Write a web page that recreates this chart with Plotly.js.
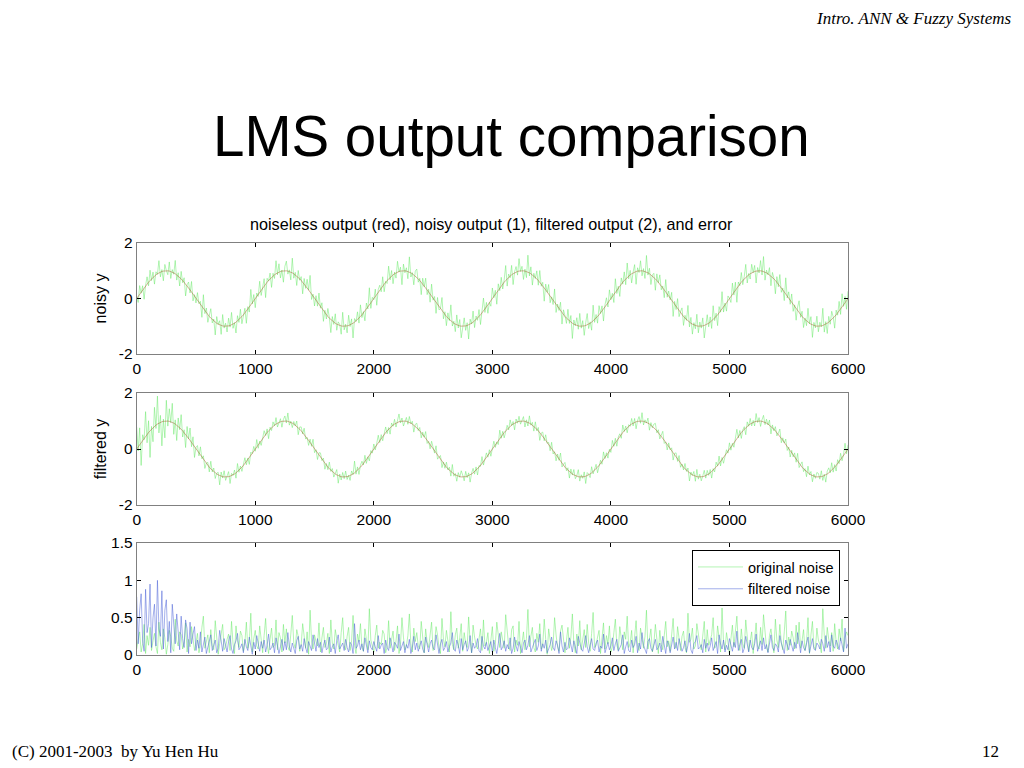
<!DOCTYPE html>
<html>
<head>
<meta charset="utf-8">
<script src="https://cdn.plot.ly/plotly-3.0.1.min.js"></script>
<style>html,body{margin:0;padding:0;background:#fff;}#chart{width:1024px;height:768px;}</style>
</head>
<body>
<div id="chart"></div>
<script>
// Sample spacing along the x axis (sample index units)
const sampleStart = 0;
const sampleStep = 12.5;

// Noiseless output (red line), read every 12.5 samples
const cleanOutput = [
 0,0.078,0.156,0.233,0.309,0.383,0.454,0.522,0.588,0.649,0.707,0.760,0.809,0.853,0.891,0.924,0.951,0.972,0.988,0.997,
 1,0.997,0.988,0.972,0.951,0.924,0.891,0.853,0.809,0.760,0.707,0.649,0.588,0.522,0.454,0.383,0.309,0.233,0.156,0.078,
 0,-0.078,-0.156,-0.233,-0.309,-0.383,-0.454,-0.522,-0.588,-0.649,-0.707,-0.760,-0.809,-0.853,-0.891,-0.924,-0.951,-0.972,-0.988,-0.997,
 -1,-0.997,-0.988,-0.972,-0.951,-0.924,-0.891,-0.853,-0.809,-0.760,-0.707,-0.649,-0.588,-0.522,-0.454,-0.383,-0.309,-0.233,-0.156,-0.078,
 0,0.078,0.156,0.233,0.309,0.383,0.454,0.522,0.588,0.649,0.707,0.760,0.809,0.853,0.891,0.924,0.951,0.972,0.988,0.997,
 1,0.997,0.988,0.972,0.951,0.924,0.891,0.853,0.809,0.760,0.707,0.649,0.588,0.522,0.454,0.383,0.309,0.233,0.156,0.078,
 0,-0.078,-0.156,-0.233,-0.309,-0.383,-0.454,-0.522,-0.588,-0.649,-0.707,-0.760,-0.809,-0.853,-0.891,-0.924,-0.951,-0.972,-0.988,-0.997,
 -1,-0.997,-0.988,-0.972,-0.951,-0.924,-0.891,-0.853,-0.809,-0.760,-0.707,-0.649,-0.588,-0.522,-0.454,-0.383,-0.309,-0.233,-0.156,-0.078,
 0,0.078,0.156,0.233,0.309,0.383,0.454,0.522,0.588,0.649,0.707,0.760,0.809,0.853,0.891,0.924,0.951,0.972,0.988,0.997,
 1,0.997,0.988,0.972,0.951,0.924,0.891,0.853,0.809,0.760,0.707,0.649,0.588,0.522,0.454,0.383,0.309,0.233,0.156,0.078,
 0,-0.078,-0.156,-0.233,-0.309,-0.383,-0.454,-0.522,-0.588,-0.649,-0.707,-0.760,-0.809,-0.853,-0.891,-0.924,-0.951,-0.972,-0.988,-0.997,
 -1,-0.997,-0.988,-0.972,-0.951,-0.924,-0.891,-0.853,-0.809,-0.760,-0.707,-0.649,-0.588,-0.522,-0.454,-0.383,-0.309,-0.233,-0.156,-0.078,
 0,0.078,0.156,0.233,0.309,0.383,0.454,0.522,0.588,0.649,0.707,0.760,0.809,0.853,0.891,0.924,0.951,0.972,0.988,0.997,
 1,0.997,0.988,0.972,0.951,0.924,0.891,0.853,0.809,0.760,0.707,0.649,0.588,0.522,0.454,0.383,0.309,0.233,0.156,0.078,
 0,-0.078,-0.156,-0.233,-0.309,-0.383,-0.454,-0.522,-0.588,-0.649,-0.707,-0.760,-0.809,-0.853,-0.891,-0.924,-0.951,-0.972,-0.988,-0.997,
 -1,-0.997,-0.988,-0.972,-0.951,-0.924,-0.891,-0.853,-0.809,-0.760,-0.707,-0.649,-0.588,-0.522,-0.454,-0.383,-0.309,-0.233,-0.156,-0.078,
 0,0.078,0.156,0.233,0.309,0.383,0.454,0.522,0.588,0.649,0.707,0.760,0.809,0.853,0.891,0.924,0.951,0.972,0.988,0.997,
 1,0.997,0.988,0.972,0.951,0.924,0.891,0.853,0.809,0.760,0.707,0.649,0.588,0.522,0.454,0.383,0.309,0.233,0.156,0.078,
 0,-0.078,-0.156,-0.233,-0.309,-0.383,-0.454,-0.522,-0.588,-0.649,-0.707,-0.760,-0.809,-0.853,-0.891,-0.924,-0.951,-0.972,-0.988,-0.997,
 -1,-0.997,-0.988,-0.972,-0.951,-0.924,-0.891,-0.853,-0.809,-0.760,-0.707,-0.649,-0.588,-0.522,-0.454,-0.383,-0.309,-0.233,-0.156,-0.078,
 0,0.078,0.156,0.233,0.309,0.383,0.454,0.522,0.588,0.649,0.707,0.760,0.809,0.853,0.891,0.924,0.951,0.972,0.988,0.997,
 1,0.997,0.988,0.972,0.951,0.924,0.891,0.853,0.809,0.760,0.707,0.649,0.588,0.522,0.454,0.383,0.309,0.233,0.156,0.078,
 0,-0.078,-0.156,-0.233,-0.309,-0.383,-0.454,-0.522,-0.588,-0.649,-0.707,-0.760,-0.809,-0.853,-0.891,-0.924,-0.951,-0.972,-0.988,-0.997,
 -1,-0.997,-0.988,-0.972,-0.951,-0.924,-0.891,-0.853,-0.809,-0.760,-0.707,-0.649,-0.588,-0.522,-0.454,-0.383,-0.309,-0.233,-0.156,-0.078,
 0
];

// Original noise (noisy output minus noiseless output), estimated every 12.5 samples
const originalNoise = [
 0.08,-0.22,0.31,-0.04,0.15,-0.41,0.02,0.26,-0.13,0.37,
 -0.06,0.19,-0.29,0.11,-0.02,0.44,-0.17,0.07,-0.35,0.23,
 0.01,-0.14,0.33,-0.25,0.09,-0.05,0.48,-0.19,0.12,-0.31,
 0.27,-0.08,0.16,-0.43,0.04,0.21,-0.11,0.38,-0.24,0.06,
 -0.16,0.29,-0.03,0.13,-0.37,0.52,-0.09,0.18,-0.27,0.03,
 0.34,-0.12,0.07,-0.46,0.24,-0.01,0.15,-0.32,0.41,-0.07,
 0.11,-0.21,0.28,-0.06,0.45,-0.15,0.02,-0.39,0.19,-0.10,
 0.32,-0.26,0.05,0.17,-0.44,0.09,-0.18,0.56,-0.04,0.22,
 -0.33,0.12,-0.08,0.39,-0.20,0.03,0.26,-0.49,0.14,-0.02,
 0.21,-0.36,0.10,-0.13,0.47,-0.07,0.30,-0.23,0.04,-0.41,
 0.16,0.35,-0.11,0.06,-0.28,0.53,-0.16,0.09,-0.34,0.25,
 -0.05,0.14,-0.42,0.20,-0.09,0.31,-0.01,0.60,-0.19,0.08,
 -0.27,0.18,-0.12,0.43,-0.04,0.23,-0.37,0.10,-0.15,0.29,
 0.02,-0.47,0.16,-0.08,0.34,-0.22,0.11,0.04,-0.30,0.50,
 -0.13,0.07,-0.25,0.37,-0.06,0.19,-0.53,0.13,-0.02,0.28,
 -0.18,0.42,-0.10,0.05,-0.35,0.22,-0.07,0.62,-0.20,0.12,
 -0.04,0.26,-0.40,0.09,0.17,-0.14,0.33,-0.28,0.03,-0.11,
 0.46,-0.09,0.20,-0.32,0.06,-0.19,0.39,-0.02,0.14,-0.50,
 0.24,-0.07,0.12,-0.26,0.55,-0.15,0.04,-0.36,0.18,0.30,
 -0.12,0.08,-0.45,0.21,-0.03,0.35,-0.17,0.10,-0.29,0.44,
 -0.06,0.15,-0.38,0.27,-0.10,0.02,0.49,-0.21,0.11,-0.33,
 0.19,-0.04,0.58,-0.14,0.07,-0.27,0.36,-0.09,0.23,-0.42,
 0.05,0.30,-0.16,0.10,-0.51,0.18,-0.03,0.40,-0.24,0.13,
 -0.08,0.25,-0.35,0.06,0.47,-0.12,0.17,-0.30,0.02,-0.20,
 0.38,-0.05,0.14,-0.44,0.22,-0.10,0.31,-0.18,0.09,0.54,
 -0.26,0.12,-0.06,0.34,-0.39,0.04,0.20,-0.13,0.45,-0.02,
 0.16,-0.31,0.07,-0.22,0.61,-0.11,0.25,-0.37,0.10,-0.04,
 0.29,-0.17,0.42,-0.08,0.13,-0.48,0.21,-0.01,0.35,-0.23,
 0.06,-0.14,0.50,-0.27,0.11,-0.05,0.32,-0.40,0.18,0.03,
 -0.19,0.37,-0.09,0.24,-0.55,0.15,-0.03,0.28,-0.12,0.46,
 -0.07,0.20,-0.34,0.10,0.41,-0.16,0.05,-0.29,0.57,-0.10,
 0.13,-0.24,0.33,-0.02,0.19,-0.43,0.08,0.26,-0.15,0.39,
 -0.04,0.11,-0.30,0.48,-0.13,0.06,-0.38,0.22,-0.07,0.31,
 -0.21,0.52,-0.10,0.16,-0.33,0.03,0.27,-0.46,0.12,-0.06,
 0.36,-0.18,0.09,-0.25,0.60,-0.08,0.20,-0.35,0.04,0.15,
 -0.41,0.24,-0.02,0.33,-0.14,0.07,-0.28,0.45,-0.11,0.19,
 -0.05,0.30,-0.49,0.13,-0.09,0.38,-0.20,0.06,0.25,-0.32,
 0.10,-0.03,0.56,-0.17,0.21,-0.36,0.08,-0.12,0.42,-0.24,
 0.15,-0.07,0.29,-0.45,0.04,0.34,-0.13,0.19,-0.27,0.50,
 -0.09,0.12,-0.39,0.23,-0.04,0.63,-0.18,0.07,-0.30,0.17,
 0.01,-0.22,0.40,-0.11,0.28,-0.52,0.14,-0.06,0.35,-0.15,
 0.09,0.47,-0.25,0.05,-0.19,0.31,-0.02,0.22,-0.43,0.12,
 -0.08,0.37,-0.14,0.54,-0.29,0.10,-0.04,0.26,-0.35,0.18,
 0.03,-0.48,0.20,-0.10,0.41,-0.16,0.07,-0.31,0.59,-0.06,
 0.24,-0.13,0.32,-0.23,0.08,-0.40,0.15,0.44,-0.09,0.19,
 -0.34,0.06,-0.17,0.50,-0.02,0.27,-0.45,0.11,-0.07,0.36,
 -0.20,0.14,-0.03,0.62,-0.26,0.09,-0.37,0.21,-0.12,0.30,
 0.05,-0.42,0.17,-0.08,0.35,-0.19,0.48,-0.05,0.23,-0.31,
 0.26
];

// Filtered noise (filtered output minus noiseless output), estimated every 12.5 samples
const filteredNoise = [
 0.78,-0.15,0.60,-0.82,0.20,-0.05,0.88,-0.30,0.42,-0.95,
 0.10,-0.50,0.68,-0.12,1.00,-0.35,0.25,-0.86,0.08,-0.60,
 0.74,-0.18,0.45,-0.03,0.68,-0.40,0.15,-0.55,0.30,-0.07,
 0.52,-0.22,0.10,-0.47,0.35,-0.02,0.44,-0.15,0.28,-0.38,
 0.06,0.20,-0.09,0.31,-0.04,0.14,-0.24,0.02,0.11,-0.17,
 0.27,-0.06,0.13,-0.20,0.03,0.09,-0.33,0.15,-0.05,0.22,
 -0.12,0.04,0.18,-0.26,0.08,-0.02,0.14,-0.19,0.29,-0.07,
 0.10,-0.15,0.03,0.21,-0.11,0.06,-0.24,0.12,-0.01,0.17,
 -0.08,0.26,-0.13,0.05,-0.18,0.09,0.20,-0.04,0.13,-0.28,
 0.07,-0.10,0.16,-0.03,0.23,-0.14,0.02,0.11,-0.21,0.06,
 0.18,-0.07,0.30,-0.12,0.04,-0.16,0.09,-0.02,0.19,-0.25,
 0.08,0.14,-0.05,0.22,-0.10,0.03,-0.18,0.12,-0.06,0.27,
 -0.13,0.05,-0.22,0.10,0.17,-0.03,0.13,-0.20,0.07,-0.09,
 0.24,-0.04,0.11,-0.15,0.02,0.19,-0.27,0.08,-0.12,0.16,
 -0.06,0.21,-0.10,0.04,-0.17,0.14,-0.02,0.42,-0.09,0.12,
 -0.20,0.07,0.15,-0.05,0.23,-0.13,0.03,-0.19,0.10,-0.07,
 0.18,-0.11,0.05,0.26,-0.08,0.13,-0.16,0.02,0.20,-0.10,
 0.06,-0.23,0.12,-0.04,0.17,-0.14,0.09,0.28,-0.06,0.11,
 -0.18,0.03,0.14,-0.09,0.21,-0.02,0.10,-0.25,0.07,0.16,
 -0.05,0.12,-0.19,0.08,-0.03,0.24,-0.11,0.04,-0.15,0.20,
 0.09,-0.07,0.27,-0.13,0.02,0.15,-0.21,0.06,-0.10,0.18,
 -0.04,0.11,-0.16,0.30,-0.08,0.05,-0.20,0.13,-0.02,0.22,
 0.07,-0.14,0.19,-0.05,0.10,-0.26,0.03,0.16,-0.09,0.12,
 -0.22,0.06,-0.03,0.25,-0.12,0.08,0.17,-0.06,0.13,-0.18,
 0.04,0.20,-0.10,0.02,-0.15,0.29,-0.07,0.11,-0.19,0.05,
 0.14,-0.08,0.23,-0.02,0.09,-0.24,0.12,-0.05,0.18,-0.11,
 0.03,0.16,-0.20,0.07,-0.13,0.26,-0.04,0.10,-0.17,0.21,
 -0.06,0.12,-0.28,0.05,0.15,-0.09,0.20,-0.03,0.08,-0.14,
 0.24,-0.10,0.06,-0.19,0.13,-0.02,0.31,-0.12,0.04,0.17,
 -0.07,0.09,-0.23,0.14,-0.04,0.19,-0.11,0.02,0.25,-0.15,
 0.08,-0.05,0.17,-0.26,0.11,0.03,-0.13,0.22,-0.08,0.06,
 0.16,-0.20,0.04,0.12,-0.09,0.28,-0.03,0.10,-0.17,0.07,
 -0.12,0.23,-0.06,0.15,-0.21,0.05,0.09,-0.14,0.27,-0.02,
 0.11,-0.18,0.06,-0.04,0.20,-0.10,0.14,-0.25,0.03,0.16,
 -0.08,0.30,-0.13,0.07,-0.02,0.18,-0.22,0.09,-0.05,0.13,
 0.21,-0.07,0.10,-0.16,0.04,0.25,-0.11,0.02,-0.19,0.14,
 -0.03,0.12,-0.24,0.08,0.17,-0.06,0.22,-0.13,0.05,-0.10,
 0.19,-0.04,0.13,-0.29,0.07,-0.02,0.15,-0.18,0.26,-0.08,
 0.10,-0.14,0.03,0.21,-0.09,0.16,-0.05,0.12,-0.23,0.06,
 -0.11,0.18,-0.02,0.27,-0.15,0.08,-0.20,0.04,0.13,-0.07,
 0.22,-0.12,0.05,-0.17,0.10,0.32,-0.06,0.14,-0.21,0.03,
 0.09,-0.25,0.16,-0.04,0.20,-0.10,0.07,-0.15,0.28,-0.05,
 0.12,-0.19,0.06,0.23,-0.08,0.14,-0.03,0.18,-0.27,0.10,
 -0.06,0.15,-0.12,0.04,0.26,-0.16,0.09,-0.02,0.20,-0.13,
 0.07,-0.21,0.11,-0.05,0.17,-0.09,0.30,-0.14,0.03,0.19,
 -0.10,0.06,-0.18,0.24,-0.03,0.12,-0.22,0.08,-0.06,0.16,
 0.13,-0.08,0.21,-0.15,0.05,-0.26,0.10,0.18,-0.04,0.27,
 -0.12,0.09,-0.20,0.14,-0.07,0.23,-0.11,0.04,0.36,-0.09,
 0.15
];

// Tick labels
const xTickVals = [0,1000,2000,3000,4000,5000,6000];
const xTickText = ['0','1000','2000','3000','4000','5000','6000'];
const yTickVals = [-2,0,2];
const yTickText = ['-2','0','2'];
const errTickVals = [0,0.5,1,1.5];
const errTickText = ['0','0.5','1','1.5'];

// Text
const slideTitle = 'LMS output comparison';
const plotTitle = 'noiseless output (red), noisy output (1), filtered output (2), and error';
const headerText = 'Intro. ANN &amp; Fuzzy Systems';
const footerText = '(C) 2001-2003\u00a0\u00a0by Yu Hen Hu';
const pageNumber = '12';
const legendNames = ['original noise','filtered noise'];

// Derived series
const noisyOutput = cleanOutput.map((v,i) => v + originalNoise[i]);
const filteredOutput = cleanOutput.map((v,i) => v + filteredNoise[i]);
const originalNoiseMag = originalNoise.map(v => Math.abs(v));
const filteredNoiseMag = filteredNoise.map(v => Math.abs(v));

const green = 'rgb(105,232,105)';
const blue = 'rgb(70,95,215)';
const redLine = 'rgba(165,85,35,0.8)';

const traces = [
  {type:'scatter', mode:'lines', x0:sampleStart, dx:sampleStep, y:noisyOutput, xaxis:'x', yaxis:'y',
   line:{color:green, width:0.5}, showlegend:false, hoverinfo:'skip'},
  {type:'scatter', mode:'lines', x0:sampleStart, dx:sampleStep, y:cleanOutput, xaxis:'x', yaxis:'y',
   line:{color:redLine, width:0.6}, showlegend:false, hoverinfo:'skip'},
  {type:'scatter', mode:'lines', x0:sampleStart, dx:sampleStep, y:filteredOutput, xaxis:'x2', yaxis:'y2',
   line:{color:green, width:0.5}, showlegend:false, hoverinfo:'skip'},
  {type:'scatter', mode:'lines', x0:sampleStart, dx:sampleStep, y:cleanOutput, xaxis:'x2', yaxis:'y2',
   line:{color:redLine, width:0.6}, showlegend:false, hoverinfo:'skip'},
  {type:'scatter', mode:'lines', x0:sampleStart, dx:sampleStep, y:originalNoiseMag, xaxis:'x3', yaxis:'y3',
   name:legendNames[0], line:{color:green, width:0.5}},
  {type:'scatter', mode:'lines', x0:sampleStart, dx:sampleStep, y:filteredNoiseMag, xaxis:'x3', yaxis:'y3',
   name:legendNames[1], line:{color:blue, width:0.5}}
];

const fam = '"Liberation Sans", Arial, sans-serif';
const serif = '"Liberation Serif", "Times New Roman", serif';
const font = {family:fam, size:15.5, color:'#000'};
const xdom = [136.7/1024, 848/1024];

function xAxis(anchor){
  return {domain:xdom, anchor:anchor, range:[0,6000], tickmode:'array', tickvals:xTickVals, ticktext:xTickText,
    ticks:'inside', ticklen:4, tickcolor:'#000', mirror:'ticks', showline:true, linecolor:'#808080', linewidth:1,
    showgrid:false, zeroline:false, tickfont:font};
}
function yAxis(anchor, dom, range, tv, tt, title){
  const a = {domain:dom, anchor:anchor, range:range, tickmode:'array', tickvals:tv, ticktext:tt,
    ticks:'inside', ticklen:4, tickcolor:'#000', mirror:'ticks', showline:true, linecolor:'#808080', linewidth:1,
    showgrid:false, zeroline:false, tickfont:font};
  if (title) a.title = {text:title, font:{family:fam, size:16, color:'#000'}, standoff:8};
  return a;
}

const layout = {
  width:1024, height:768,
  margin:{l:0, r:0, t:0, b:0},
  paper_bgcolor:'#fff', plot_bgcolor:'#fff',
  font:font,
  xaxis:xAxis('y'),
  xaxis2:xAxis('y2'),
  xaxis3:xAxis('y3'),
  yaxis:yAxis('x', [1-354/768, 1-243/768], [-2,2], yTickVals, yTickText, 'noisy y'),
  yaxis2:yAxis('x2', [1-505/768, 1-393/768], [-2,2], yTickVals, yTickText, 'filtered y'),
  yaxis3:yAxis('x3', [1-655/768, 1-543/768], [0,1.5], errTickVals, errTickText, null),
  showlegend:true,
  legend:{x:840/1024, xanchor:'right', y:1-550/768, yanchor:'top', bgcolor:'#fff',
    bordercolor:'#000', borderwidth:1, font:{family:fam, size:14.5, color:'#000'}, tracegroupgap:0,
    itemwidth:45},
  annotations:[
    {xref:'paper', yref:'paper', x:511.5/1024, y:1-136/768, xanchor:'center', yanchor:'middle', showarrow:false,
     text:slideTitle, font:{family:fam, size:56.5, color:'#000'}},
    {xref:'paper', yref:'paper', x:491/1024, y:1-224/768, xanchor:'center', yanchor:'middle', showarrow:false,
     text:plotTitle, font:{family:fam, size:16.2, color:'#000'}},
    {xref:'paper', yref:'paper', x:1013/1024, y:1-18/768, xanchor:'right', yanchor:'middle', showarrow:false,
     text:'<i>'+headerText+'</i>', font:{family:serif, size:17, color:'#000'}},
    {xref:'paper', yref:'paper', x:10/1024, y:1-751/768, xanchor:'left', yanchor:'middle', showarrow:false,
     text:footerText, font:{family:serif, size:17, color:'#000'}},
    {xref:'paper', yref:'paper', x:1001/1024, y:1-751/768, xanchor:'right', yanchor:'middle', showarrow:false,
     text:pageNumber, font:{family:serif, size:17, color:'#000'}}
  ]
};

Plotly.newPlot('chart', traces, layout, {staticPlot:true, displayModeBar:false});
</script>
</body>
</html>
